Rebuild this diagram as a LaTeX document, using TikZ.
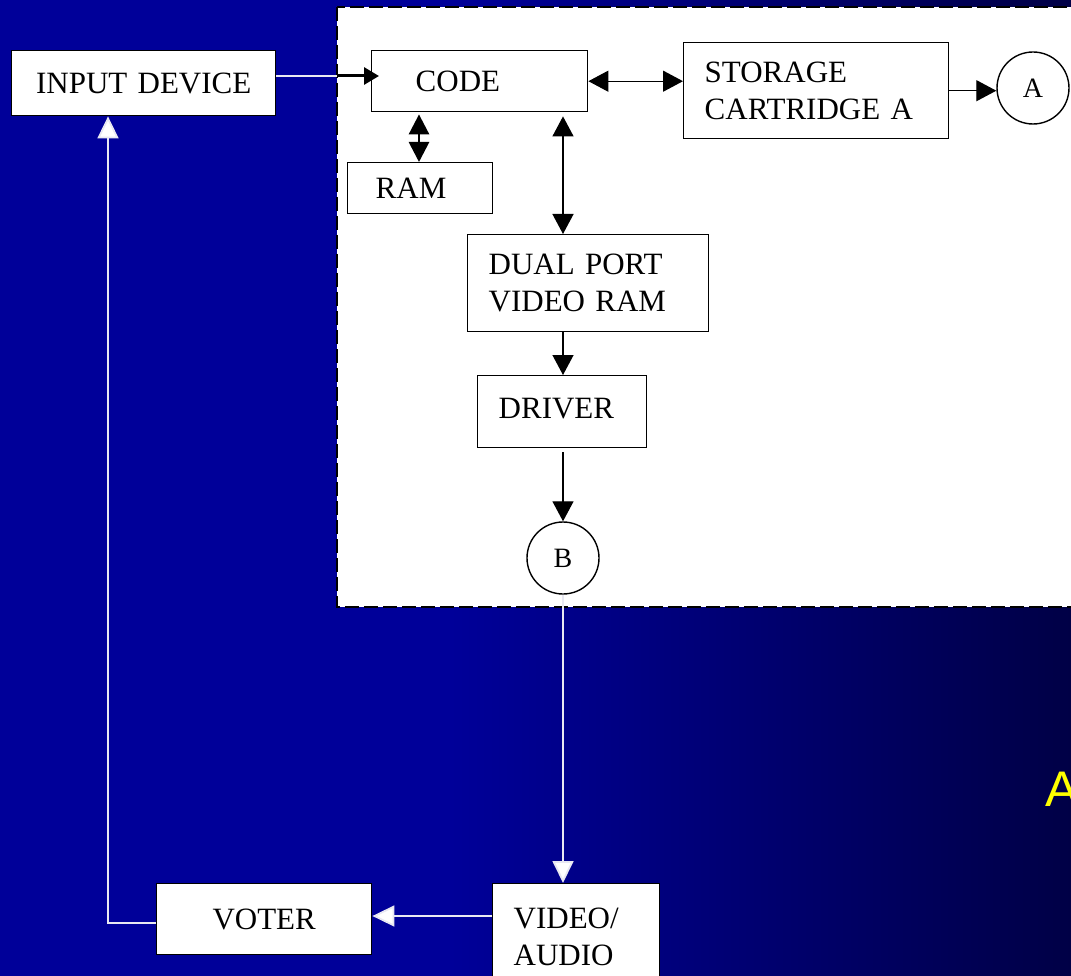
\documentclass[tikz,border=0pt]{standalone}
\usepackage{fontspec}
\setmainfont{Liberation Serif}
\newfontfamily\arialfont{Liberation Sans}
\usetikzlibrary{arrows.meta,calc}
\definecolor{bgleft}{RGB}{0,0,153}
\definecolor{bgright}{RGB}{0,0,70}
\definecolor{wire}{RGB}{232,232,242}
\begin{document}
\begin{tikzpicture}[x=1pt,y=-1pt,
  box/.style={draw=black, line width=1.4pt, fill=white, anchor=north west,
    inner ysep=0pt, font=\fontsize{31}{37}\selectfont, align=left},
  circ/.style={draw=black, line width=1.4pt, fill=white, circle,
    minimum size=72pt, inner sep=0pt, font=\fontsize{28}{30}\selectfont},
  blk/.style={draw=black, line width=1.3pt},
  btip/.tip={Triangle[length=20pt,width=21pt]},
  wht/.style={draw=wire, line width=1.8pt},
  wtip/.tip={Triangle[length=22pt,width=21pt,fill=white]},
]
\useasboundingbox (0,0) rectangle (1071,976);
\clip (0,0) rectangle (1071,976);

% background
\fill[bgleft] (0,0) rectangle (451,976);
\shade[left color=bgleft, right color=bgright] (450,0) rectangle (1071,976);

% dashed white panel
\draw[fill=white, line width=1.5pt, dash pattern=on 14pt off 5pt] (337,7) rectangle (1090,607);

% blocks
\node (input) [box, minimum width=264pt, minimum height=65pt, inner xsep=10pt,
  text width=244pt, align=center] at (11,50) {INPUT DEVICE};
\node (code) [box, minimum width=216pt, minimum height=61pt, inner xsep=44pt,
  text width=128pt] at (371,50) {CODE};
\node (ram) [box, minimum width=145pt, minimum height=51pt, inner xsep=28pt,
  text width=89pt] at (347,162) {\raisebox{-6pt}{RAM}};
\node (storage) [box, minimum width=265pt, minimum height=96pt, inner xsep=21pt,
  text width=223pt] at (683,42) {STORAGE\\CARTRIDGE A};
\node (dual) [box, minimum width=241pt, minimum height=97pt, inner xsep=21pt,
  text width=199pt] at (467,234) {DUAL PORT\\VIDEO RAM};
\node (driver) [box, minimum width=169pt, minimum height=72pt, inner xsep=21pt,
  text width=127pt] at (477,375) {\raisebox{6pt}{DRIVER}};
\node (voter) [box, minimum width=215pt, minimum height=71pt, inner xsep=10pt,
  text width=195pt, align=center] at (156,883) {VOTER};
\node (video) [box, minimum width=167pt, minimum height=107pt, inner xsep=21pt,
  text width=125pt] at (492,883) {VIDEO/\\AUDIO};
\node (A) [circ] at (1033,88) {A};
\node (B) [circ] at (563,558) {B};
\node (ylab) [anchor=base west, inner sep=0pt, text={rgb,255:red,255;green,255;blue,0},
  font=\arialfont\fontsize{50}{60}\selectfont] at (1045,806) {A};

% routing points
\coordinate (split) at (337,76);
\coordinate (ramx) at (419,0);
\coordinate (spine) at (563,0);
\coordinate (ret) at (108,0);
\coordinate (vrow) at (0,916);
\coordinate (rrow) at (0,923);

% input device into the code block
\draw[wht] (input.east |- split) -- (split);
\draw[draw=black, line width=3pt, -{Triangle[length=15pt,width=17pt]}, shorten >=-8pt]
  (split) -- (code.west |- split);

% code <-> ram
\draw[draw=black, line width=2.8pt, {Triangle[length=20pt,width=20pt]}-{Triangle[length=20pt,width=20pt]}]
  ($(ramx |- code.south)+(0,2)$) -- (ramx |- ram.north);

% code <-> storage, storage -> A
\draw[blk, btip-btip] (code.east) -- (code.east -| storage.west);
\draw[blk, -btip] (storage.east) -- (storage.east -| A.west);

% vertical chain
\draw[blk, btip-btip] ($(spine |- code.south)+(0,4)$) -- (spine |- dual.north);
\draw[blk, -btip] (spine |- dual.south) -- (spine |- driver.north);
\draw[blk, -btip, shorten <=4pt] (spine |- driver.south) -- (B.north);

% output loop through the voter
\draw[wht, -wtip] (B.south) -- (B.south |- video.north);
\draw[wht, -wtip] (video.west |- vrow) -- (voter.east |- vrow);
\draw[wht, -wtip] (voter.west |- rrow) -| (ret |- input.south);
\end{tikzpicture}
\end{document}
